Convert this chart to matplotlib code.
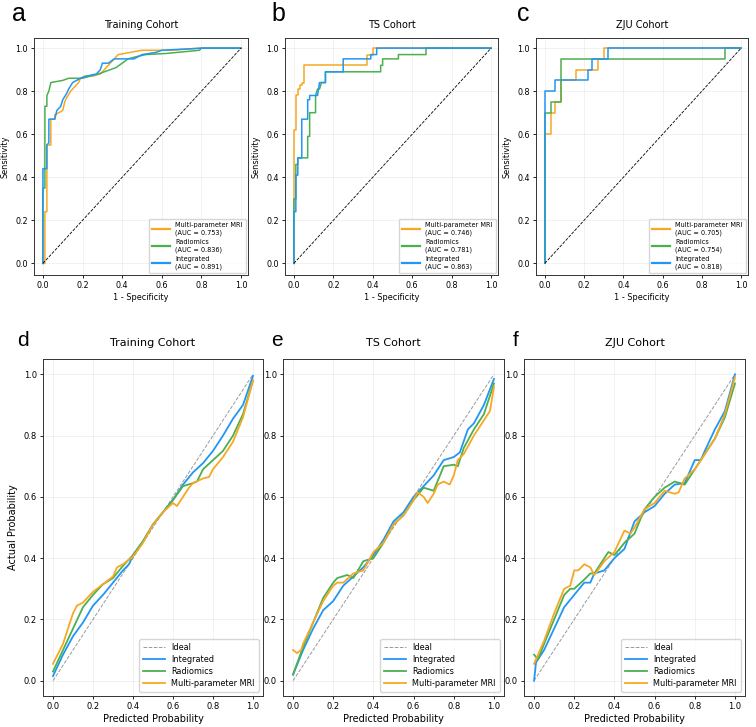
import matplotlib
matplotlib.use("Agg")
import matplotlib.pyplot as plt
import numpy as np

# colours for the three models
c_mri = '#F7A823'
c_rad = '#4CAF50'
c_int = '#2196F3'

# ---------------- ROC data ----------------
cohorts = ['Training Cohort', 'TS Cohort', 'ZJU Cohort']
auc_mri = [0.753, 0.746, 0.705]
auc_rad = [0.836, 0.781, 0.754]
auc_int = [0.891, 0.863, 0.818]

# Training cohort
fpr_mri_a = [0, 0.01, 0.01, 0.02, 0.02, 0.04, 0.04, 0.06, 0.06, 0.08, 0.10, 0.11, 0.12, 0.14, 0.16, 0.18,
             0.19, 0.21, 0.25, 0.29, 0.31, 0.33, 0.36, 0.38, 0.44, 0.50, 0.62, 0.65, 0.79, 1.0]
tpr_mri_a = [0, 0, 0.24, 0.24, 0.55, 0.55, 0.67, 0.67, 0.69, 0.70, 0.71, 0.75, 0.77, 0.80, 0.82, 0.84,
             0.86, 0.87, 0.87, 0.88, 0.90, 0.92, 0.95, 0.97, 0.98, 0.99, 0.99, 0.99, 1.0, 1.0]
fpr_rad_a = [0, 0, 0.01, 0.01, 0.02, 0.02, 0.03, 0.04, 0.10, 0.13, 0.20, 0.24, 0.28, 0.31, 0.34, 0.37,
             0.40, 0.43, 0.47, 0.52, 0.62, 0.79, 0.80, 1.0]
tpr_rad_a = [0, 0.35, 0.35, 0.73, 0.73, 0.78, 0.80, 0.84, 0.85, 0.86, 0.86, 0.87, 0.88, 0.89, 0.90, 0.91,
             0.93, 0.95, 0.96, 0.97, 0.975, 0.99, 1.0, 1.0]
fpr_int_a = [0, 0, 0.02, 0.02, 0.03, 0.03, 0.06, 0.07, 0.09, 0.10, 0.12, 0.13, 0.15, 0.19, 0.22, 0.27,
             0.29, 0.30, 0.33, 0.36, 0.46, 0.50, 0.57, 0.60, 0.81, 1.0]
tpr_int_a = [0, 0.44, 0.44, 0.55, 0.56, 0.67, 0.67, 0.71, 0.73, 0.76, 0.79, 0.81, 0.84, 0.86, 0.87, 0.88,
             0.90, 0.93, 0.93, 0.95, 0.95, 0.97, 0.98, 0.99, 1.0, 1.0]

# TS cohort
fpr_mri_b = [0, 0, 0.01, 0.01, 0.02, 0.02, 0.03, 0.03, 0.04, 0.04, 0.05, 0.05, 0.37, 0.37, 0.40, 0.40, 1.0]
tpr_mri_b = [0, 0.62, 0.62, 0.78, 0.78, 0.81, 0.81, 0.83, 0.83, 0.84, 0.84, 0.92, 0.92, 0.97, 0.97, 1.0, 1.0]
fpr_rad_b = [0, 0, 0.01, 0.01, 0.02, 0.02, 0.07, 0.07, 0.08, 0.08, 0.11, 0.11, 0.12, 0.13, 0.14, 0.16,
             0.16, 0.44, 0.44, 0.45, 0.45, 0.53, 0.53, 0.67, 0.67, 1.0]
tpr_rad_b = [0, 0.30, 0.30, 0.46, 0.46, 0.49, 0.49, 0.59, 0.59, 0.70, 0.70, 0.78, 0.81, 0.81, 0.84, 0.84,
             0.89, 0.89, 0.92, 0.92, 0.95, 0.95, 0.97, 0.97, 1.0, 1.0]
fpr_int_b = [0, 0, 0.01, 0.01, 0.02, 0.02, 0.04, 0.04, 0.07, 0.07, 0.08, 0.08, 0.12, 0.13, 0.16, 0.16,
             0.25, 0.25, 0.39, 0.39, 0.42, 0.42, 1.0]
tpr_int_b = [0, 0.24, 0.24, 0.41, 0.41, 0.49, 0.49, 0.67, 0.67, 0.76, 0.76, 0.78, 0.78, 0.84, 0.84, 0.89,
             0.89, 0.95, 0.95, 0.97, 0.97, 1.0, 1.0]

# ZJU cohort
fpr_mri_c = [0, 0, 0.03, 0.03, 0.05, 0.05, 0.08, 0.08, 0.16, 0.16, 0.27, 0.27, 0.30, 0.30, 1.0]
tpr_mri_c = [0, 0.60, 0.60, 0.70, 0.70, 0.75, 0.75, 0.85, 0.85, 0.90, 0.90, 0.95, 0.95, 1.0, 1.0]
fpr_rad_c = [0, 0, 0.03, 0.03, 0.08, 0.08, 0.92, 0.92, 1.0]
tpr_rad_c = [0, 0.70, 0.70, 0.75, 0.75, 0.95, 0.95, 1.0, 1.0]
fpr_int_c = [0, 0, 0.05, 0.05, 0.22, 0.22, 0.24, 0.24, 0.32, 0.32, 1.0]
tpr_int_c = [0, 0.80, 0.80, 0.85, 0.85, 0.90, 0.90, 0.95, 0.95, 1.0, 1.0]

# ---------------- calibration data ----------------
px_mri_d = [0, 0.05, 0.08, 0.10, 0.12, 0.15, 0.20, 0.25, 0.30, 0.32, 0.35, 0.40, 0.45, 0.50, 0.55, 0.60,
            0.62, 0.65, 0.68, 0.70, 0.75, 0.78, 0.80, 0.85, 0.90, 0.95, 1.0]
py_mri_d = [0.055, 0.12, 0.18, 0.22, 0.245, 0.255, 0.29, 0.315, 0.34, 0.37, 0.38, 0.405, 0.45, 0.51, 0.55,
            0.58, 0.57, 0.60, 0.63, 0.645, 0.66, 0.665, 0.69, 0.73, 0.78, 0.86, 0.98]
px_rad_d = [0, 0.05, 0.10, 0.15, 0.20, 0.25, 0.30, 0.35, 0.40, 0.45, 0.50, 0.55, 0.60, 0.65, 0.70, 0.72,
            0.75, 0.80, 0.85, 0.90, 0.95, 1.0]
py_rad_d = [0.03, 0.10, 0.17, 0.24, 0.28, 0.315, 0.335, 0.375, 0.41, 0.455, 0.51, 0.55, 0.59, 0.635, 0.645,
            0.65, 0.69, 0.72, 0.75, 0.80, 0.87, 0.98]
px_int_d = [0, 0.05, 0.10, 0.15, 0.20, 0.25, 0.30, 0.35, 0.38, 0.40, 0.45, 0.50, 0.55, 0.60, 0.65, 0.70,
            0.75, 0.80, 0.85, 0.90, 0.95, 1.0]
py_int_d = [0.015, 0.085, 0.145, 0.19, 0.245, 0.28, 0.32, 0.36, 0.38, 0.41, 0.455, 0.51, 0.55, 0.59, 0.64,
            0.68, 0.71, 0.75, 0.80, 0.855, 0.90, 0.995]

px_mri_e = [0, 0.02, 0.04, 0.05, 0.10, 0.15, 0.20, 0.22, 0.25, 0.30, 0.35, 0.40, 0.45, 0.50, 0.55, 0.60,
            0.62, 0.65, 0.67, 0.70, 0.72, 0.75, 0.78, 0.80, 0.82, 0.85, 0.90, 0.95, 0.98, 1.0]
py_mri_e = [0.10, 0.09, 0.10, 0.12, 0.19, 0.26, 0.31, 0.32, 0.32, 0.35, 0.36, 0.42, 0.45, 0.51, 0.54, 0.59,
            0.615, 0.60, 0.58, 0.61, 0.64, 0.65, 0.64, 0.67, 0.72, 0.74, 0.80, 0.85, 0.88, 0.96]
px_rad_e = [0, 0.05, 0.10, 0.15, 0.20, 0.22, 0.27, 0.30, 0.35, 0.40, 0.45, 0.50, 0.55, 0.60, 0.65, 0.70,
            0.75, 0.80, 0.82, 0.85, 0.90, 0.95, 1.0]
py_rad_e = [0.02, 0.11, 0.19, 0.27, 0.32, 0.335, 0.345, 0.335, 0.39, 0.40, 0.45, 0.51, 0.54, 0.59, 0.63,
            0.62, 0.70, 0.705, 0.70, 0.76, 0.82, 0.87, 0.97]
px_int_e = [0, 0.05, 0.10, 0.15, 0.20, 0.25, 0.30, 0.35, 0.40, 0.45, 0.50, 0.55, 0.60, 0.65, 0.70, 0.75,
            0.80, 0.83, 0.87, 0.90, 0.95, 1.0]
py_int_e = [0.02, 0.10, 0.17, 0.23, 0.26, 0.31, 0.34, 0.37, 0.41, 0.46, 0.52, 0.55, 0.60, 0.635, 0.67,
            0.72, 0.73, 0.745, 0.82, 0.84, 0.90, 0.985]

px_mri_f = [0, 0.05, 0.10, 0.15, 0.18, 0.20, 0.22, 0.25, 0.28, 0.30, 0.35, 0.40, 0.45, 0.48, 0.50, 0.55,
            0.60, 0.65, 0.70, 0.72, 0.75, 0.80, 0.85, 0.90, 0.95, 1.0]
py_mri_f = [0.055, 0.13, 0.22, 0.30, 0.31, 0.36, 0.36, 0.38, 0.37, 0.345, 0.39, 0.42, 0.49, 0.48, 0.50,
            0.56, 0.58, 0.62, 0.61, 0.615, 0.66, 0.69, 0.74, 0.79, 0.87, 0.99]
px_rad_f = [0, 0.02, 0.05, 0.10, 0.15, 0.18, 0.20, 0.25, 0.28, 0.30, 0.35, 0.37, 0.40, 0.45, 0.50, 0.55,
            0.60, 0.65, 0.70, 0.75, 0.80, 0.85, 0.90, 0.95, 1.0]
py_rad_f = [0.085, 0.07, 0.12, 0.20, 0.28, 0.30, 0.30, 0.33, 0.35, 0.35, 0.40, 0.42, 0.41, 0.45, 0.48,
            0.56, 0.60, 0.63, 0.65, 0.64, 0.69, 0.74, 0.79, 0.86, 0.97]
px_int_f = [0, 0.01, 0.05, 0.10, 0.15, 0.20, 0.25, 0.28, 0.30, 0.35, 0.40, 0.45, 0.50, 0.55, 0.60, 0.65,
            0.70, 0.75, 0.80, 0.83, 0.85, 0.90, 0.95, 1.0]
py_int_f = [0.0, 0.06, 0.10, 0.17, 0.24, 0.28, 0.32, 0.32, 0.35, 0.36, 0.40, 0.43, 0.52, 0.55, 0.57, 0.61,
            0.64, 0.645, 0.72, 0.72, 0.75, 0.82, 0.88, 1.0]

roc_data = [
    (fpr_mri_a, tpr_mri_a, fpr_rad_a, tpr_rad_a, fpr_int_a, tpr_int_a),
    (fpr_mri_b, tpr_mri_b, fpr_rad_b, tpr_rad_b, fpr_int_b, tpr_int_b),
    (fpr_mri_c, tpr_mri_c, fpr_rad_c, tpr_rad_c, fpr_int_c, tpr_int_c),
]
cal_data = [
    (px_int_d, py_int_d, px_rad_d, py_rad_d, px_mri_d, py_mri_d),
    (px_int_e, py_int_e, px_rad_e, py_rad_e, px_mri_e, py_mri_e),
    (px_int_f, py_int_f, px_rad_f, py_rad_f, px_mri_f, py_mri_f),
]

W, H = 756, 727
fig = plt.figure(figsize=(W / 100, H / 100), dpi=100)


def box(x0, y0, x1, y1):
    return [x0 / W, 1 - y1 / H, (x1 - x0) / W, (y1 - y0) / H]


top_boxes = [box(34, 38, 248, 275), box(285, 38, 498, 275), box(536, 38, 748, 275)]
bot_boxes = [box(43, 359, 263, 696), box(283, 359, 504, 696), box(524, 359, 745, 696)]

ticks = [0, 0.2, 0.4, 0.6, 0.8, 1.0]

# top row: ROC curves
for i, rect in enumerate(top_boxes):
    ax = fig.add_axes(rect)
    fm, tm, fr, tr, fi, ti = roc_data[i]
    ax.plot(fm, tm, color=c_mri, lw=1.1, label=f'Multi-parameter MRI\n(AUC = {auc_mri[i]:.3f})')
    ax.plot(fr, tr, color=c_rad, lw=1.1, label=f'Radiomics\n(AUC = {auc_rad[i]:.3f})')
    ax.plot(fi, ti, color=c_int, lw=1.1, label=f'Integrated\n(AUC = {auc_int[i]:.3f})')
    ax.plot([0, 1], [0, 1], 'k--', lw=0.6)
    ax.set_xlim(-0.045, 1.035)
    ax.set_ylim(-0.054, 1.047)
    ax.set_xticks(ticks)
    ax.set_yticks(ticks)
    ax.tick_params(labelsize=5.8, length=2.5, width=0.6, pad=2)
    ax.grid(True, alpha=0.22, lw=0.5)
    ax.set_title(cohorts[i], fontsize=7, pad=7)
    ax.set_xlabel('1 - Specificity', fontsize=5.9, labelpad=2)
    ax.set_ylabel('Sensitivity', fontsize=5.9, labelpad=4)
    for s in ax.spines.values():
        s.set_linewidth(0.7)
        s.set_color('#333333')
    leg = ax.legend(loc='lower right', fontsize=4.7, handlelength=2.8, borderpad=0.5,
                    labelspacing=0.55, handletextpad=0.8, borderaxespad=0.3,
                    fancybox=True, framealpha=0.8)
    for line in leg.get_lines():
        line.set_linewidth(1.6)

# bottom row: calibration curves
for i, rect in enumerate(bot_boxes):
    ax = fig.add_axes(rect)
    xi, yi, xr, yr, xm, ym = cal_data[i]
    ax.plot([0, 1], [0, 1], '--', color='gray', lw=0.7, alpha=0.8, label='Ideal')
    ax.plot(xi, yi, color=c_int, lw=1.3, label='Integrated')
    ax.plot(xr, yr, color=c_rad, lw=1.3, label='Radiomics')
    ax.plot(xm, ym, color=c_mri, lw=1.3, label='Multi-parameter MRI')
    ax.set_xlim(-0.05, 1.05)
    ax.set_ylim(-0.05, 1.05)
    ax.set_xticks(ticks)
    ax.set_yticks(ticks)
    ax.tick_params(labelsize=6, length=2.5, width=0.6, pad=2)
    ax.grid(True, alpha=0.22, lw=0.5)
    ax.set_title(cohorts[i], fontsize=8, pad=9)
    ax.set_xlabel('Predicted Probability', fontsize=7, labelpad=2)
    if i == 0:
        ax.set_ylabel('Actual Probability', fontsize=7, labelpad=4)
    for s in ax.spines.values():
        s.set_linewidth(0.7)
        s.set_color('#333333')
    ax.legend(loc='lower right', fontsize=5.9, handlelength=2.6, borderpad=0.5,
              labelspacing=0.35, handletextpad=0.8, framealpha=0.8)

# panel letters
letter_font = ['Liberation Sans', 'DejaVu Sans']
for lab, (x, y) in zip('abc', [(12, 21), (271, 21), (517, 21)]):
    fig.text(x / W, 1 - y / H, lab, fontsize=18, family=letter_font, va='baseline')
for lab, (x, y) in zip('def', [(17, 346), (271, 346), (513, 346)]):
    fig.text(x / W, 1 - y / H, lab, fontsize=15, family=letter_font, va='baseline')

fig.savefig('out.png', dpi=100)
